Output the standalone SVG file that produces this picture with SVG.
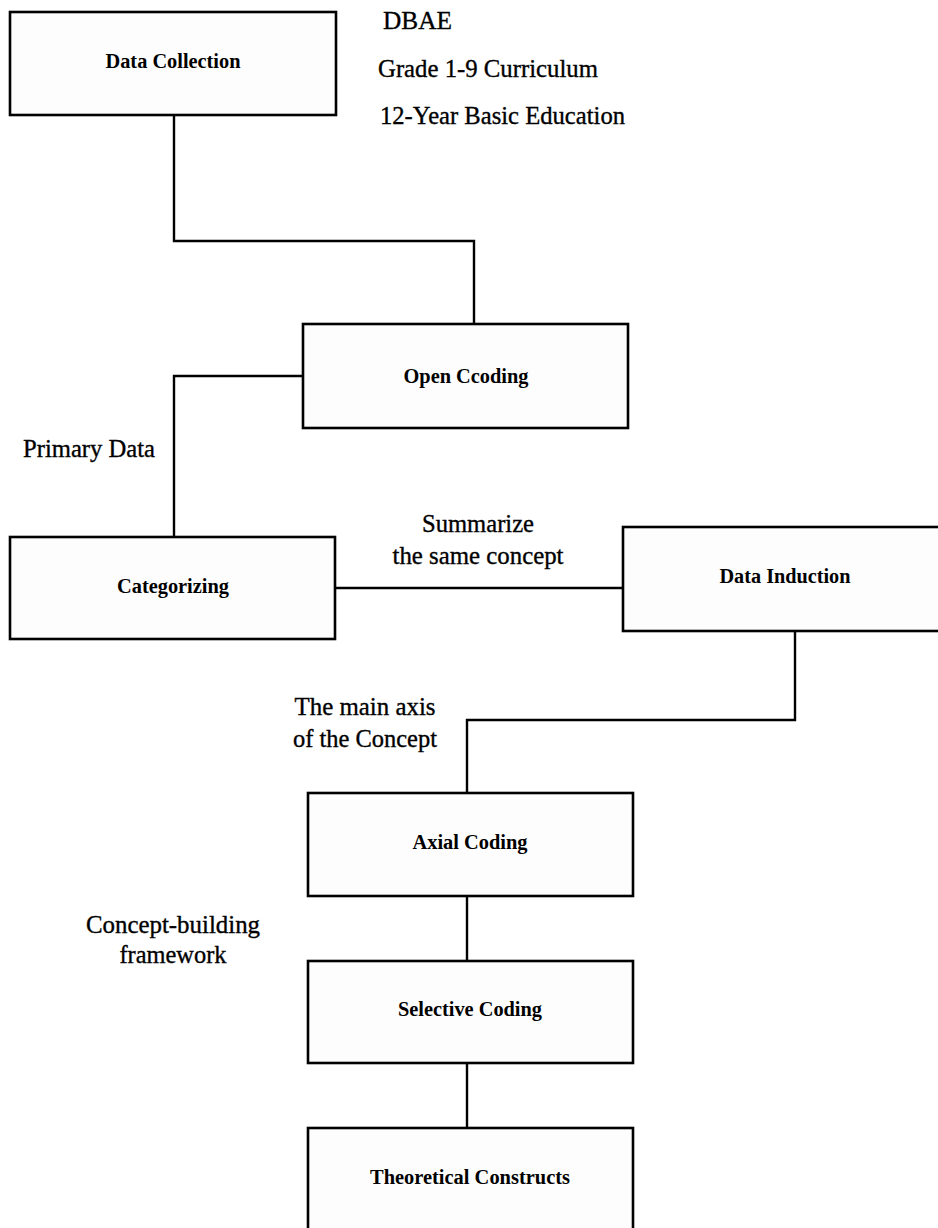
<svg xmlns="http://www.w3.org/2000/svg" width="938" height="1228" viewBox="0 0 938 1228">
<style>
.box{fill:#fdfdfd;stroke:#000;stroke-width:2.6}
.conn{fill:none;stroke:#000;stroke-width:2.4}
.nl{font-family:"Liberation Serif",serif;font-weight:bold;font-size:20px;text-anchor:middle;fill:#000}
.lb{font-family:"Liberation Serif",serif;font-size:25px;fill:#000;stroke:#000;stroke-width:0.35}
.lc{font-family:"Liberation Serif",serif;font-size:25px;fill:#000;stroke:#000;stroke-width:0.35;text-anchor:middle}
</style>
<rect width="938" height="1228" fill="#fff"/>
<g id="connectors">
<polyline class="conn" points="174,115 174,241 474,241 474,324"/>
<polyline class="conn" points="303,376 174,376 174,537"/>
<line class="conn" x1="335" y1="588" x2="623" y2="588"/>
<polyline class="conn" points="795,631 795,720 467,720 467,793"/>
<line class="conn" x1="467" y1="896" x2="467" y2="961"/>
<line class="conn" x1="467" y1="1063" x2="467" y2="1128"/>
</g>
<g id="data-collection">
<rect class="box" x="10" y="12" width="326" height="103"/>
<text class="nl" x="173" y="68" textLength="135" lengthAdjust="spacingAndGlyphs">Data Collection</text>
</g>
<g id="open-coding">
<rect class="box" x="303" y="324" width="325" height="104"/>
<text class="nl" x="466" y="383" textLength="125" lengthAdjust="spacingAndGlyphs">Open Ccoding</text>
</g>
<g id="categorizing">
<rect class="box" x="10" y="537" width="325" height="102"/>
<text class="nl" x="173" y="593" textLength="112" lengthAdjust="spacingAndGlyphs">Categorizing</text>
</g>
<g id="data-induction">
<rect class="box" x="623" y="527" width="330" height="104"/>
<text class="nl" x="785" y="583" textLength="131" lengthAdjust="spacingAndGlyphs">Data Induction</text>
</g>
<g id="axial-coding">
<rect class="box" x="308" y="793" width="325" height="103"/>
<text class="nl" x="470" y="849" textLength="115" lengthAdjust="spacingAndGlyphs">Axial Coding</text>
</g>
<g id="selective-coding">
<rect class="box" x="308" y="961" width="325" height="102"/>
<text class="nl" x="470" y="1016" textLength="144" lengthAdjust="spacingAndGlyphs">Selective Coding</text>
</g>
<g id="theoretical-constructs">
<rect class="box" x="308" y="1128" width="325" height="110"/>
<text class="nl" x="470" y="1184" textLength="200" lengthAdjust="spacingAndGlyphs">Theoretical Constructs</text>
</g>
<g id="labels">
<text class="lb" x="383" y="29" textLength="69" lengthAdjust="spacingAndGlyphs">DBAE</text>
<text class="lb" x="378" y="77" textLength="220" lengthAdjust="spacingAndGlyphs">Grade 1-9 Curriculum</text>
<text class="lb" x="380" y="124" textLength="245" lengthAdjust="spacingAndGlyphs">12-Year Basic Education</text>
<text class="lb" x="23" y="457" textLength="132" lengthAdjust="spacingAndGlyphs">Primary Data</text>
<text class="lc" x="478" y="532" textLength="112" lengthAdjust="spacingAndGlyphs">Summarize</text>
<text class="lc" x="478" y="564" textLength="171" lengthAdjust="spacingAndGlyphs">the same concept</text>
<text class="lc" x="365" y="715" textLength="141" lengthAdjust="spacingAndGlyphs">The main axis</text>
<text class="lc" x="365" y="747" textLength="144" lengthAdjust="spacingAndGlyphs">of the Concept</text>
<text class="lc" x="173" y="933" textLength="174" lengthAdjust="spacingAndGlyphs">Concept-building</text>
<text class="lc" x="173" y="963" textLength="107" lengthAdjust="spacingAndGlyphs">framework</text>
</g>
</svg>
